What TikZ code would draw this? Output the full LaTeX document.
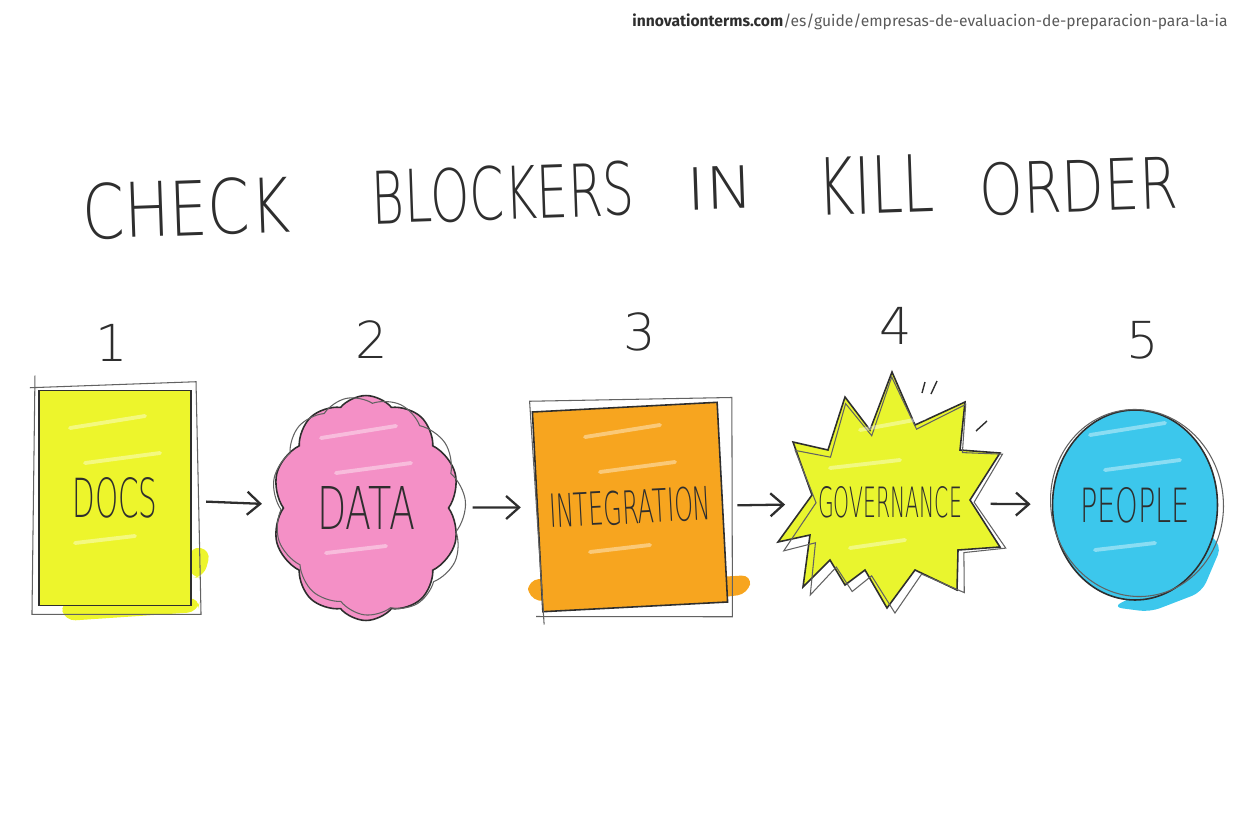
\documentclass[tikz,border=0pt]{standalone}
\usepackage{fontspec}
\usepackage{graphicx}
\usetikzlibrary{shapes.geometric, shapes.symbols, arrows.meta}
\newfontfamily\handfont{DejaVu Sans ExtraLight}
\newfontfamily\urlfont{Fira Sans}
\definecolor{ink}{HTML}{2E2E2E}
\definecolor{docyellow}{HTML}{EDF52C}
\definecolor{datapink}{HTML}{F490C6}
\definecolor{intorange}{HTML}{F7A51F}
\definecolor{govyellow}{HTML}{E9F52E}
\definecolor{peopleblue}{HTML}{3CC7EC}
\definecolor{urlgray}{HTML}{5A5A5A}
\newcommand{\hand}[3]{\resizebox{#1}{#2}{\handfont #3}}

\begin{document}
\begin{tikzpicture}[x=0.02cm, y=-0.02cm, >={Straight Barb[length=2.6mm,width=4.6mm]},
    box/.style={draw=ink, line width=0.9pt, inner sep=0pt},
    sketch/.style={draw=ink!75, line width=0.6pt},
    arr/.style={->, draw=ink, line width=1.3pt},
    spill/.style={rounded corners=6pt},
    streak/.style={white, opacity=0.4, line width=2.2pt, line cap=round}]
    \useasboundingbox (0,0) rectangle (1248,832);

    \node[anchor=base east, inner sep=0pt] (url) at (1228,26) {\urlfont\fontsize{8.9}{10}\selectfont
        \textcolor{ink}{\textbf{innovationterms.com}}\textcolor{urlgray}{/es/guide/empresas-de-evaluacion-de-preparacion-para-la-ia}};

    \node[rotate=2, text=ink] (t1) at (186,208) {\hand{4.16cm}{1.12cm}{CHECK}};
    \node[rotate=2, text=ink] (t2) at (503,193) {\hand{5.26cm}{1.08cm}{BLOCKERS}};
    \node[rotate=2, text=ink] (t3) at (720,188) {\hand{1.34cm}{0.85cm}{IN}};
    \node[rotate=2, text=ink] (t4) at (876,185) {\hand{2.34cm}{1.15cm}{KILL}};
    \node[rotate=2, text=ink] (t5) at (1079,186) {\hand{3.96cm}{1.05cm}{ORDER}};

    \fill[docyellow, spill] (60,602) -- (200,598) -- (198,612) -- (65,621) -- cycle;
    \fill[docyellow, spill] (190,546) -- (211,550) -- (204,577) -- (190,578) -- cycle;
    \fill[intorange, spill] (528,580) -- (552,578) -- (550,603) -- (528,598) -- cycle;
    \fill[intorange, spill] (700,578) -- (752,575) -- (748,594) -- (700,600) -- cycle;
    \fill[peopleblue, spill] (1200,528) -- (1222,545) -- (1202,592) -- (1150,612) -- (1112,607) -- (1152,588) -- cycle;

    \node[box, rectangle, fill=docyellow, minimum width=3.05cm, minimum height=4.3cm] (1) at (115,498) {};
    \node[box, cloud, cloud puffs=10, cloud puff arc=100, cloud ignores aspect, fill=datapink,
        minimum width=3.75cm, minimum height=4.5cm] (2) at (366,508) {};
    \node[box, rectangle, rotate=3, fill=intorange, minimum width=3.7cm, minimum height=4.0cm] (3) at (630,507) {};
    \node[ellipse, inner sep=0pt, minimum width=3.64cm, minimum height=3.6cm] (4) at (887,503) {};
    \node[box, ellipse, fill=peopleblue, minimum width=3.3cm, minimum height=3.8cm] (5) at (1135,505) {};

    \begin{scope}[shift={(890,495)}]
        \draw[box, fill=govyellow] plot coordinates {(2,-123) (25,-70) (75,-93) (70,-45) (110,-42) (80,5) (110,52)
            (68,55) (67,95) (25,75) (-3,113) (-25,75) (-45,90) (-60,65) (-87,92) (-80,40) (-112,47) (-78,0)
            (-97,-53) (-62,-45) (-45,-98) (-20,-65)} -- cycle;
        \draw[sketch, shift={(4,5)}, rotate=2] plot coordinates {(2,-123) (25,-70) (75,-93) (70,-45) (110,-42) (80,5) (110,52)
            (68,55) (67,95) (25,75) (-3,113) (-25,75) (-45,90) (-60,65) (-87,92) (-80,40) (-112,47) (-78,0)
            (-97,-53) (-62,-45) (-45,-98) (-20,-65)} -- cycle;
    \end{scope}

    \foreach \k in {1, 2, 3, 5}{
        \draw[streak] ([shift={(-45,-70)}]\k.center) -- ([shift={(30,-82)}]\k.center);
        \draw[streak] ([shift={(-30,-35)}]\k.center) -- ([shift={(45,-45)}]\k.center);
        \draw[streak] ([shift={(-40,45)}]\k.center) -- ([shift={(20,38)}]\k.center);
    }
    \draw[streak] (860,430) -- (925,418) (830,468) -- (900,460) (850,548) -- (905,540);

    \node[text=ink] (1t) at (1.center) {\hand{1.7cm}{0.8cm}{DOCS}};
    \node[text=ink] (2t) at (2.center) {\hand{1.96cm}{0.86cm}{DATA}};
    \node[text=ink, rotate=3] (3t) at (3.center) {\hand{3.24cm}{0.68cm}{INTEGRATION}};
    \node[text=ink] (4t) at (890,502) {\hand{2.88cm}{0.62cm}{GOVERNANCE}};
    \node[text=ink] (5t) at (5.center) {\hand{2.2cm}{0.7cm}{PEOPLE}};

    \draw[sketch] ([shift={(-3,-14)}]1.north west) -- ([shift={(-6,8)}]1.south west) -- ([shift={(9,8)}]1.south east)
        -- ([shift={(4,-8)}]1.north east) -- ([shift={(-8,-2)}]1.north west);
    \node[sketch, cloud, cloud puffs=11, cloud puff arc=90, cloud ignores aspect, rotate=12,
        minimum width=3.85cm, minimum height=4.4cm] (2b) at ([shift={(3,-2)}]2.center) {};
    \draw[sketch] ([shift={(2,12)}]3.south west) -- ([shift={(-2,-10)}]3.north west) -- ([shift={(14,-4)}]3.north east)
        -- ([shift={(4,14)}]3.south east) -- ([shift={(-6,4)}]3.south west);
    \node[sketch, ellipse, rotate=10, minimum width=3.45cm, minimum height=3.75cm] (5b) at ([shift={(2,-2)}]5.center) {};

    \draw[ink, line width=0.8pt] (922,393) -- (925,382) (931,394) -- (937,381) (976,431) -- (987,421);

    \foreach \k/\x/\y in {1/112/343, 2/372/340, 3/640/332, 4/896/326, 5/1143/340}
        \node[text=ink] (n\k) at (\x,\y) {\handfont\fontsize{29}{29}\selectfont \k};

    \foreach \k/\l/\a/\b in {1/2/8pt/10.5pt, 2/3/13pt/9pt, 3/4/8pt/6pt, 4/5/7pt/12pt}
        {\draw[arr, shorten <=\a, shorten >=\b] (\k) -- (\l);}
\end{tikzpicture}
\end{document}
